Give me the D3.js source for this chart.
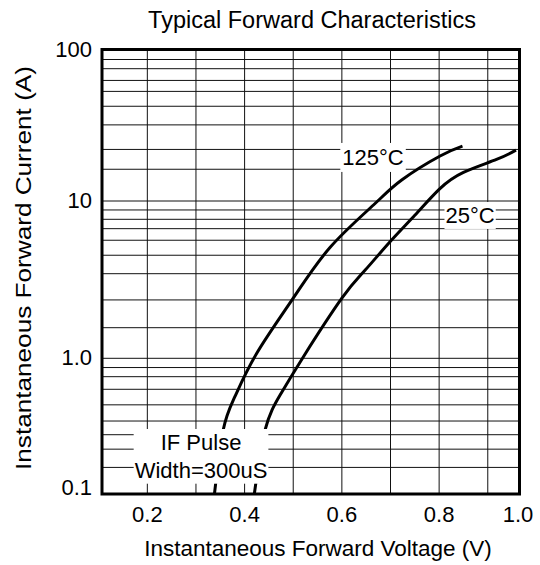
<!DOCTYPE html>
<html>
<head>
<meta charset="utf-8">
<script src="https://cdn.jsdelivr.net/npm/d3@7"></script>
<style>
  body { margin: 0; background: #fff; }
  text { font-family: "Liberation Sans", Arial, sans-serif; fill: #000; }
</style>
</head>
<body>
<script>
var w = 540;
var h = 565;

// plot frame (layout only)
var frame = { left: 102, right: 519.5, top: 49.5, bottom: 494 };

// 125°C curve
var volts125 = [0.338, 0.356, 0.380, 0.425, 0.500, 0.576, 0.665, 0.723, 0.802, 0.848];
var amps125  = [0.10, 0.296, 0.521, 1.076, 2.41, 5.08, 9.43, 13.75, 19.8, 23.0];

// 25°C curve
var volts25 = [0.420, 0.442, 0.473, 0.521, 0.600, 0.648, 0.699, 0.750, 0.800, 0.850, 0.918, 0.958];
var amps25  = [0.10, 0.296, 0.536, 1.024, 2.41, 3.64, 5.51, 8.12, 11.94, 15.45, 18.8, 21.66];

// axis ticks
var xTicks = [0.2, 0.4, 0.6, 0.8, 1.0];
var yTicks = [0.1, 1, 10, 100];
var yTickLabels = ["0.1", "1.0", "10", "100"];

// grid lines as drawn on the sheet (not evenly spaced in log)
var xGrid = [0.2, 0.3, 0.4, 0.5, 0.6, 0.7, 0.8, 0.9];
var yGrid = [85.9, 74.7, 62.5, 52.9, 42.2, 31.8, 21.9, 16.2, 10,
             8.77, 7.65, 6.67, 5.63, 4.52, 3.45, 2.35, 1.565, 1,
             0.855, 0.732, 0.591, 0.454, 0.345, 0.2735, 0.214, 0.157];

var svg = d3.select("body")
    .append("svg")
    .attr("width", w)
    .attr("height", h);

//Scales
var xScale = d3.scaleLinear()
    .domain([0.1, 1.0])
    .range([98.7, 536.4]);

// the decades are not all the same height on the sheet
var yLog = d3.scaleLinear()
    .domain([-1, 0, 1, 2])
    .range([494, 358.3, 201, 49.5]);
function yScale(v) { return yLog(Math.log10(v)); }

//Grid
svg.append("g")
    .selectAll("line")
    .data(xGrid)
    .enter()
    .append("line")
    .attr("x1", d => xScale(d)).attr("x2", d => xScale(d))
    .attr("y1", frame.top).attr("y2", frame.bottom)
    .attr("stroke", "#111")
    .attr("stroke-width", 1);

svg.append("g")
    .selectAll("line")
    .data(yGrid)
    .enter()
    .append("line")
    .attr("x1", frame.left).attr("x2", frame.right)
    .attr("y1", d => yScale(d)).attr("y2", d => yScale(d))
    .attr("stroke", "#111")
    .attr("stroke-width", 1);

//Curves
var line = d3.line()
    .x(d => xScale(d[0]))
    .y(d => yScale(d[1]))
    .curve(d3.curveNatural);

[[volts125, amps125], [volts25, amps25]].forEach(function(s) {
    svg.append("path")
        .datum(d3.zip(s[0], s[1]))
        .attr("d", line)
        .attr("fill", "none")
        .attr("stroke", "#000")
        .attr("stroke-width", 3);
});

//Labels on white boxes
function boxLabel(lines, xv, yv, lineH, pad) {
    var g = svg.append("g");
    var rect = g.append("rect").attr("fill", "#fff");
    var t = g.append("text")
        .attr("font-size", "22px")
        .attr("text-anchor", "middle");
    lines.forEach(function(s, i) {
        t.append("tspan")
            .attr("x", xScale(xv))
            .attr("y", yScale(yv) + i * lineH)
            .text(s);
    });
    var bb = t.node().getBBox();
    rect.attr("x", bb.x - pad).attr("y", bb.y - pad)
        .attr("width", bb.width + 2 * pad)
        .attr("height", bb.height + 2 * pad);
}
boxLabel(["125\u00B0C"], 0.664, 17.3, 0, 2);
boxLabel(["25\u00B0C"], 0.8636, 7.25, 0, 1);
boxLabel(["IF Pulse", "Width=300uS"], 0.3104, 0.211, 27.7, 1);

//Frame
svg.append("rect")
    .attr("x", frame.left)
    .attr("y", frame.top)
    .attr("width", frame.right - frame.left)
    .attr("height", frame.bottom - frame.top)
    .attr("fill", "none")
    .attr("stroke", "#000")
    .attr("stroke-width", 3);

//Axes
var xAxis = d3.axisBottom(xScale)
    .tickValues(xTicks)
    .tickSize(0)
    .tickPadding(12)
    .tickFormat(d3.format(".1f"));

var gx = svg.append("g")
    .attr("transform", "translate(0," + frame.bottom + ")")
    .call(xAxis);
gx.select(".domain").remove();
// 1.0 sits just inside the frame edge
gx.selectAll(".tick")
    .attr("transform", d => "translate(" + Math.min(xScale(d), frame.right - 1.5) + ",0)");

var yAxis = d3.axisLeft(yLog)
    .tickValues(yTicks.map(v => Math.log10(v)))
    .tickSize(0)
    .tickPadding(10)
    .tickFormat((d, i) => yTickLabels[i]);

var gy = svg.append("g")
    .attr("transform", "translate(" + frame.left + ",0)")
    .call(yAxis);
gy.select(".domain").remove();
gy.selectAll(".tick")
    .attr("transform", d => "translate(0," + Math.min(yLog(d), frame.bottom - 6) + ")");

svg.selectAll(".tick text")
    .attr("font-size", "22px")
    .attr("font-family", "Liberation Sans, Arial, sans-serif")
    .attr("fill", "#000");

//Titles
svg.append("text")
    .attr("x", 312)
    .attr("y", 28)
    .attr("text-anchor", "middle")
    .attr("font-size", "23.5px")
    .text("Typical Forward Characteristics");

svg.append("text")
    .attr("x", 318)
    .attr("y", 556)
    .attr("text-anchor", "middle")
    .attr("font-size", "22.5px")
    .text("Instantaneous Forward Voltage (V)");

svg.append("text")
    .attr("transform", "translate(31,268) rotate(-90)")
    .attr("text-anchor", "middle")
    .attr("font-size", "22px")
    .attr("textLength", 404)
    .attr("lengthAdjust", "spacingAndGlyphs")
    .text("Instantaneous Forward Current (A)");
</script>
</body>
</html>
